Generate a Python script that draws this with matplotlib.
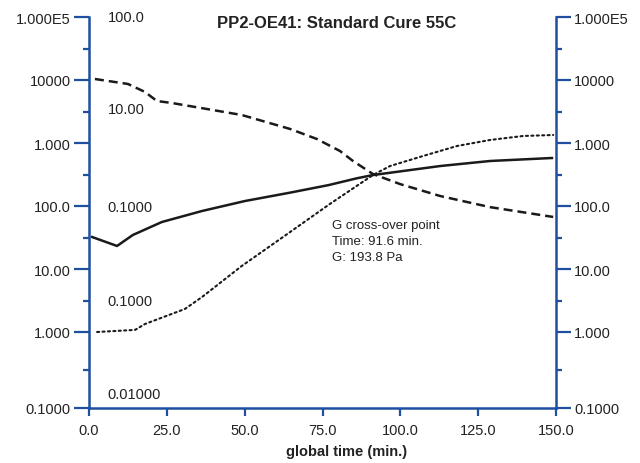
"""
Rheology cure plot: PP2-OE41 standard cure at 55C.
Three moduli traces on a log axis vs. global time.
"""

import numpy as np
import matplotlib
matplotlib.use("Agg")
import matplotlib.pyplot as plt
from matplotlib import font_manager

# Data
dashed_t = [1.9, 12.5, 18.0, 21.8, 26.7, 49.1, 64.6, 73.2, 80.6, 84.8, 91.2, 99.9, 112.8, 128.8, 149.1]
dashed_g = [10375, 8650, 6450, 4640, 4310, 2780, 1670, 1157, 747, 518, 322, 223, 144, 96, 67]

solid_t = [1.0, 9.0, 14.1, 23.4, 36.3, 50.1, 64.6, 77.0, 86.0, 91.2, 112.8, 128.8, 148.7]
solid_g = [32.2, 23.2, 34.7, 55.7, 83.3, 120, 163, 215, 275, 310, 431, 518, 578]

dotted_t = [2.6, 14.8, 18.0, 30.8, 36.3, 49.1, 61.4, 77.4, 91.2, 96.7, 107.3, 118.2, 128.8, 139.4, 149.1]
dotted_g = [1.0, 1.08, 1.34, 2.32, 3.59, 11.2, 29.9, 108, 310, 431, 622, 896, 1117, 1292, 1340]

y_ticks = [0.1, 1, 10, 100, 1000, 1e4, 1e5]
y_labels = ["0.1000", "1.000", "10.00", "100.0", "1.000", "10000", "1.000E5"]
x_ticks = [0, 25, 50, 75, 100, 125, 150]
x_labels = ["0.0", "25.0", "50.0", "75.0", "100.0", "125.0", "150.0"]

inner_labels = ["100.0", "10.00", "0.1000", "0.1000", "0.01000"]
inner_pos = [1.0, 0.765, 0.514, 0.274, 0.035]

BLUE = "#1f50a0"
TEXT = "#222222"

available = {f.name for f in font_manager.fontManager.ttflist}
narrow = "Liberation Sans Narrow" if "Liberation Sans Narrow" in available else "Liberation Sans"
plt.rcParams["font.family"] = [narrow, "DejaVu Sans"]


# bottom decade on the reference is drawn a bit taller than the others
def fwd(y):
    l = np.log10(np.clip(y, 1e-12, None))
    return np.where(l < 0, l * 76 / 63, l)


def inv(v):
    return np.where(v < 0, 10 ** (v * 63 / 76), 10 ** v)


fig = plt.figure(figsize=(6.4, 4.64), dpi=100)
ax = fig.add_axes([89 / 640, 55 / 464, 467 / 640, 391 / 464])
ax.set_yscale("function", functions=(fwd, inv))

ax.plot(dashed_t, dashed_g, color="#1a1a1a", lw=1.8, linestyle=(0, (3.6, 2.0)))
ax.plot(solid_t, solid_g, color="#1a1a1a", lw=1.8)
ax.plot(dotted_t, dotted_g, color="#1a1a1a", lw=1.5, linestyle=(0, (1, 1.6)),
        dash_capstyle="round")

ax.set_xlim(0, 150)
ax.set_ylim(0.1, 1e5)

ax.set_yticks(y_ticks)
ax.set_yticklabels(y_labels)
ax.set_yticks([10 ** (k + 0.5) for k in range(-1, 5)], minor=True)
ax.set_xticks(x_ticks)
ax.set_xticklabels(x_labels)

for side in ["left", "right", "bottom"]:
    ax.spines[side].set_color(BLUE)
    ax.spines[side].set_linewidth(1.8)
ax.spines["top"].set_visible(False)

ax.tick_params(axis="y", which="major", direction="out", length=11, width=1.6,
               color=BLUE, labelcolor=TEXT, labelsize=10.5, right=True, labelright=True, pad=2)
ax.tick_params(axis="y", which="minor", direction="out", length=4.5, width=1.6,
               color=BLUE, right=True)
ax.tick_params(axis="x", direction="out", length=6, width=1.6, color=BLUE,
               labelcolor=TEXT, labelsize=10.5, pad=5)

for lab, pos in zip(inner_labels, inner_pos):
    ax.text(0.04, pos, lab, transform=ax.transAxes, fontsize=10.5, color=TEXT,
            ha="left", va="center")

ax.text(0.52, 0.483, "G cross-over point\nTime: 91.6 min.\nG: 193.8 Pa",
        transform=ax.transAxes, fontsize=9.5, color=TEXT, ha="left", va="top",
        linespacing=1.45)

fig.text(337 / 640, 1 - 24 / 464, "PP2-OE41: Standard Cure 55C", ha="center", va="center",
         fontsize=12, fontweight="bold", color=TEXT)
fig.text(347 / 640, 1 - 452 / 464, "global time (min.)", ha="center", va="center",
         fontsize=10.5, fontweight="bold", color=TEXT)

fig.savefig("out.png", dpi=100)
